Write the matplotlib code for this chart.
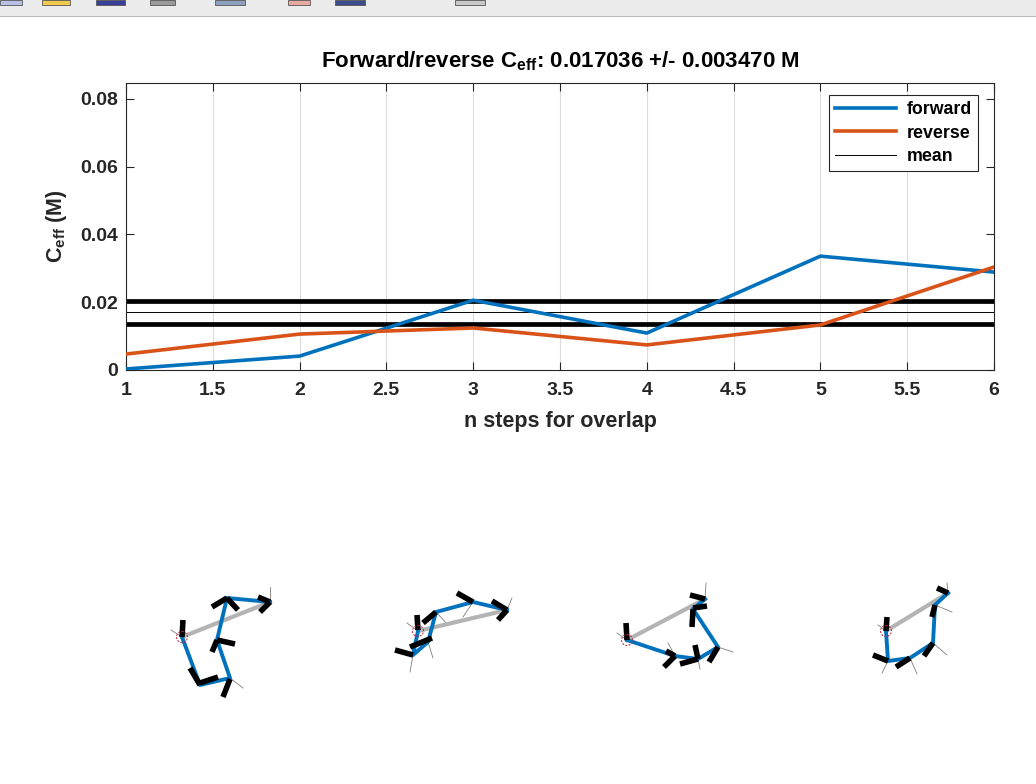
import numpy as np
import matplotlib
matplotlib.use('Agg')
import matplotlib.pyplot as plt
from matplotlib.patches import Rectangle, Circle

plt.rcParams['font.family'] = ['Liberation Sans', 'DejaVu Sans']
plt.rcParams['font.weight'] = 'bold'
plt.rcParams['mathtext.fontset'] = 'custom'
plt.rcParams['mathtext.rm'] = 'Liberation Sans:bold'
plt.rcParams['mathtext.it'] = 'Liberation Sans:bold'
plt.rcParams['mathtext.bf'] = 'Liberation Sans:bold'

# ---- data ----
n_steps = [1, 2, 3, 4, 5, 6]
forward = [0.0003, 0.0041, 0.0206, 0.0109, 0.0336, 0.0289]
reverse = [0.0047, 0.0106, 0.0124, 0.0074, 0.0133, 0.0304]
c_mean = 0.017036
c_std = 0.003470
xticks = [1, 1.5, 2, 2.5, 3, 3.5, 4, 4.5, 5, 5.5, 6]
yticks = [0, 0.02, 0.04, 0.06, 0.08]

# small chain drawings (pixel coords of the screenshot)
chains = [
    dict(path=[(182, 637), (200, 685), (230, 678), (217, 640), (227, 598), (270, 602)],
         black=[((183, 620), (182, 637)), ((190, 668), (200, 685)), ((223, 697), (230, 679)),
                ((217, 640), (235, 644)), ((212, 652), (217, 640)), ((212, 607), (227, 598)),
                ((227, 598), (238, 610)), ((258, 597), (270, 602)), ((260, 612), (270, 602)),
                ((200, 683), (218, 677))],
         gray=[((182, 637), (171, 630)), ((200, 685), (197, 680)), ((230, 678), (243, 688)),
               ((270, 602), (270, 587)), ((227, 598), (226, 606))]),
    dict(path=[(418, 631), (413, 655), (428, 642), (436, 612), (473, 602), (507, 610)],
         black=[((417, 615), (418, 630)), ((423, 623), (436, 612)), ((457, 593), (473, 602)),
                ((492, 601), (507, 610)), ((498, 620), (507, 610)), ((395, 650), (413, 655)),
                ((410, 647), (432, 638))],
         gray=[((413, 655), (410, 672)), ((428, 642), (433, 658)), ((436, 612), (448, 625)),
               ((473, 602), (463, 617)), ((507, 610), (512, 598)), ((418, 631), (407, 623))]),
    dict(path=[(627, 640), (675, 656), (698, 659), (718, 647), (693, 609), (705, 599)],
         black=[((626, 623), (627, 640)), ((664, 667), (675, 656)), ((666, 651), (675, 656)),
                ((680, 664), (698, 659)), ((695, 645), (698, 659)), ((709, 662), (718, 647)),
                ((692, 627), (693, 609)), ((690, 595), (705, 599)), ((693, 608), (707, 606))],
         gray=[((718, 647), (733, 652)), ((705, 599), (706, 583)), ((698, 659), (700, 669)),
               ((675, 656), (668, 643)), ((627, 640), (617, 633))]),
    dict(path=[(886, 631), (888, 661), (910, 658), (933, 643), (935, 605), (948, 593)],
         black=[((887, 617), (886, 631)), ((873, 655), (888, 661)), ((896, 667), (910, 658)),
                ((924, 656), (933, 643)), ((932, 617), (935, 605)), ((937, 588), (948, 593))],
         gray=[((888, 661), (882, 673)), ((910, 658), (917, 674)), ((933, 643), (947, 655)),
               ((935, 605), (952, 612)), ((948, 593), (947, 583)), ((886, 631), (878, 625))]),
]

# toolbar icons at the very top of the screenshot (x0, x1, colour)
toolbar_icons = [(0, 22, '#b9bfe6'), (42, 70, '#f2c94c'), (96, 125, '#3a3f9a'),
                 (150, 175, '#9a9a9a'), (215, 245, '#8ca0c0'), (288, 310, '#e9a9a0'),
                 (335, 365, '#3a4c8c'), (455, 485, '#c8c8c8')]

W, H = 1036, 784
fig = plt.figure(figsize=(W / 100, H / 100), dpi=100)
fig.patch.set_facecolor('white')

# toolbar strip
fig.patches.append(Rectangle((0, 1 - 16 / H), 1, 16 / H, transform=fig.transFigure,
                             facecolor='#ececec', edgecolor='none', zorder=0))
fig.patches.append(Rectangle((0, 1 - 17 / H), 1, 1 / H, transform=fig.transFigure,
                             facecolor='#b8b8b8', edgecolor='none', zorder=0))
for x0, x1, c in toolbar_icons:
    fig.patches.append(Rectangle((x0 / W, 1 - 5 / H), (x1 - x0) / W, 5 / H,
                                 transform=fig.transFigure, facecolor=c,
                                 edgecolor='#555555', lw=0.6, zorder=1))

# ---- main axes ----
ax = fig.add_axes([126 / W, 1 - 370 / H, (994 - 126) / W, (370 - 83) / H])
blue = '#0072bd'
orange = '#d95319'
ax.plot(n_steps, forward, color=blue, lw=2.6, label='forward', zorder=3)
ax.plot(n_steps, reverse, color=orange, lw=2.6, label='reverse', zorder=3)
ax.axhline(c_mean, color='black', lw=0.7, label='mean', zorder=2)
ax.axhline(c_mean + c_std, color='black', lw=3.4, zorder=2)
ax.axhline(c_mean - c_std, color='black', lw=3.4, zorder=2)

ax.set_xlim(1, 6)
ax.set_ylim(0, 0.0847)
ax.set_xticks(xticks)
ax.set_xticklabels(['1', '1.5', '2', '2.5', '3', '3.5', '4', '4.5', '5', '5.5', '6'])
ax.set_yticks(yticks)
ax.set_yticklabels(['0', '0.02', '0.04', '0.06', '0.08'])
ax.grid(axis='x', color='#dcdcdc', lw=0.8)
ax.set_axisbelow(True)
ax.tick_params(direction='in', length=6, width=0.8, top=True, right=True,
               labelsize=14, colors='#262626')
ax.tick_params(axis='x', pad=9)
ax.tick_params(axis='y', pad=6)
for s in ax.spines.values():
    s.set_color('#262626')
    s.set_linewidth(0.8)

ax.set_title(r'Forward/reverse C$_{eff}$: 0.017036 +/- 0.003470 M',
             fontsize=16, fontweight='bold', pad=11)
ax.set_xlabel('n steps for overlap', fontsize=15.5, fontweight='bold', color='#262626', labelpad=8)
ax.set_ylabel(r'C$_{eff}$ (M)', fontsize=15.5, fontweight='bold', color='#262626', labelpad=8)

leg = ax.legend(loc='upper right', bbox_to_anchor=(978 / W, 1 - 95 / H),
                bbox_transform=fig.transFigure, borderaxespad=0, fontsize=12.8,
                handlelength=3.4, handletextpad=0.6, borderpad=0.35, labelspacing=0.36,
                fancybox=False, framealpha=1, edgecolor='#262626')
leg.get_frame().set_linewidth(0.8)

# ---- chain drawings ----
ax2 = fig.add_axes([0, 0, 1, 1])
ax2.set_xlim(0, W)
ax2.set_ylim(H, 0)
ax2.axis('off')
for ch in chains:
    p = np.array(ch['path'])
    for a, b in ch['gray']:
        ax2.plot([a[0], b[0]], [a[1], b[1]], color='#808080', lw=0.6, zorder=1)
    ax2.plot([p[0, 0], p[-1, 0]], [p[0, 1], p[-1, 1]], color='#b4b4b4', lw=3.0, zorder=2)
    ax2.plot(p[:, 0], p[:, 1], color=blue, lw=2.8, zorder=3)
    for a, b in ch['black']:
        ax2.plot([a[0], b[0]], [a[1], b[1]], color='black', lw=4.0,
                 solid_capstyle='butt', zorder=4)
    ax2.add_patch(Circle((p[0, 0], p[0, 1]), 5.5, fill=False, edgecolor='#c0203a',
                         lw=0.7, ls=(0, (2, 1.5)), zorder=5))

fig.savefig('out.png', dpi=100)
